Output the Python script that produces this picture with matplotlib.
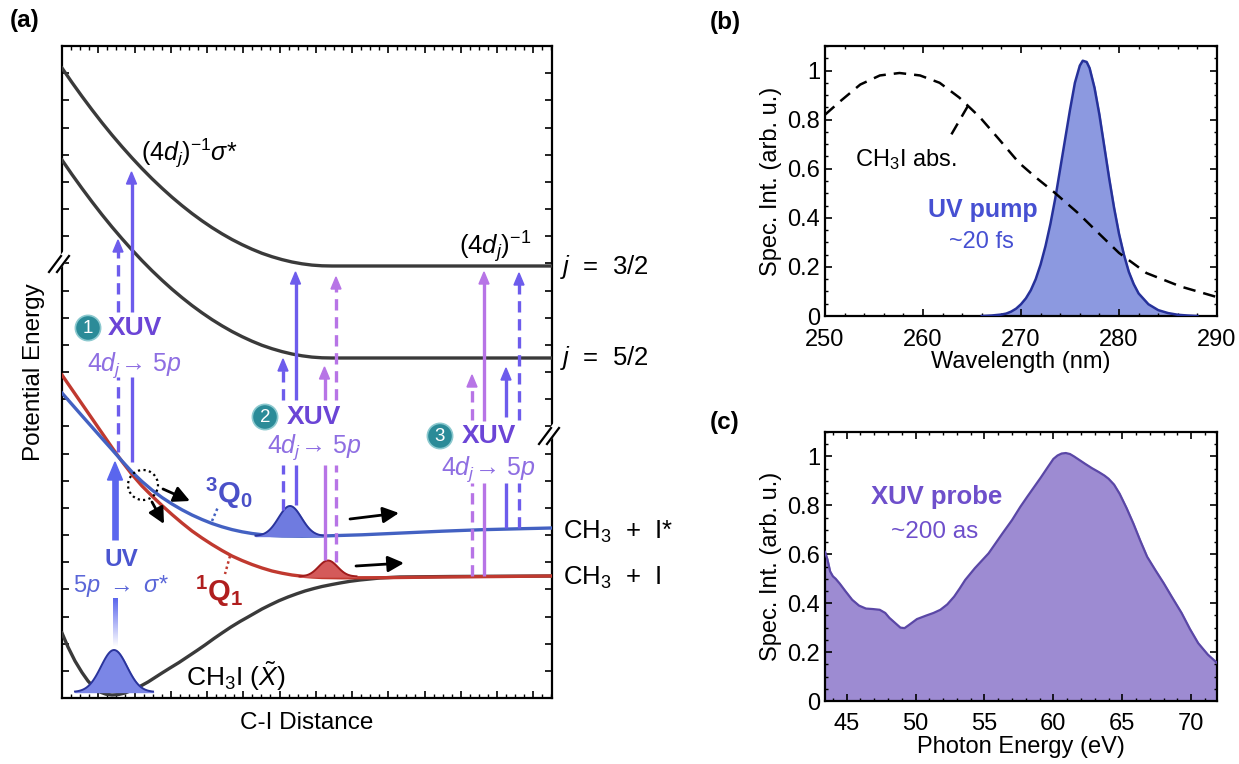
import numpy as np
import matplotlib
matplotlib.use("Agg")
import matplotlib.pyplot as plt
from matplotlib.ticker import MultipleLocator, AutoMinorLocator, FixedLocator, FixedFormatter
from matplotlib.patches import Circle, Polygon

plt.rcParams['font.family'] = ['Liberation Sans', 'DejaVu Sans']
plt.rcParams['mathtext.fontset'] = 'custom'
plt.rcParams['mathtext.rm'] = 'Liberation Sans'
plt.rcParams['mathtext.it'] = 'Liberation Sans:italic'
plt.rcParams['mathtext.bf'] = 'Liberation Sans:bold'

# ---------------- Panel (a) data (arbitrary units) ----------------
ion32_x = [0, 10, 20, 30, 40, 50, 60, 70, 80, 90, 100, 110, 120, 130, 140, 150, 160, 170, 180, 190,
           200, 210, 220, 230, 240, 250, 260, 270, 300, 350, 400, 450, 490]
ion32_y = [630, 615.5, 601.6, 588.2, 575.3, 563.0, 551.3, 540.1, 529.4, 519.3, 509.8, 500.8, 492.4, 484.5,
           477.2, 470.4, 464.2, 458.5, 453.4, 448.8, 444.7, 441.3, 438.4, 436.0, 434.2, 432.9, 432.2, 432,
           432, 432, 432, 432, 432]
ion52_x = ion32_x
ion52_y = [538, 523.5, 509.6, 496.2, 483.3, 471.0, 459.3, 448.1, 437.4, 427.3, 417.8, 408.8, 400.4, 392.5,
           385.2, 378.4, 372.2, 366.5, 361.4, 356.8, 352.7, 349.3, 346.4, 344.0, 342.2, 340.9, 340.2, 340,
           340, 340, 340, 340, 340]
q1_x = [0, 10, 20, 30, 40, 50, 60, 70, 80, 90, 100, 110, 120, 130, 140, 150, 160, 170, 180, 190, 200,
        210, 220, 230, 240, 250, 260, 280, 320, 380, 440, 490]
q1_y = [323, 308.5, 294, 279.5, 265, 250.5, 236.5, 223.5, 212, 202, 192.5, 183.5, 175, 167, 160, 153.5,
        147.5, 142, 137.5, 133.5, 130, 127, 124.8, 123, 121.8, 121, 120.5, 120.2, 120.3, 121, 121.5, 122]
q0_x = [0, 10, 20, 30, 40, 50, 60, 70, 80, 90, 100, 110, 120, 130, 140, 150, 160, 170, 180, 190, 200,
        210, 220, 240, 260, 300, 340, 380, 420, 460, 490]
q0_y = [305, 293.6, 282.2, 270.9, 259.6, 248.4, 237.0, 226, 216.5, 208, 200.5, 194, 188.2, 183, 178.5,
        174.5, 171.2, 168.4, 166.2, 164.5, 163.3, 162.5, 162, 161.8, 162, 163.2, 165, 166.8, 168.3, 169.3, 170]
gs_x = [0, 6, 13, 20, 26, 32, 38, 44, 50, 56, 63, 70, 78, 86, 93, 100, 108, 117, 126, 135, 143, 152, 160,
        169, 178, 186, 193, 200, 208, 217, 226, 235, 243, 252, 260, 270, 278, 288, 298, 318, 338, 388, 490]
gs_y = [65, 51, 37, 25.5, 17, 10.5, 6, 3.8, 3, 3.4, 5, 7.8, 11.6, 16, 20.5, 25, 30, 35.5, 41.5, 47.5, 53,
        59.5, 65, 71, 76.5, 81, 85, 89, 93, 97.3, 101, 104.3, 107, 109.5, 111.5, 113.5, 115, 116.7, 118,
        120, 121, 121.5, 122]

# wavepackets: center, base, amplitude, width
wp_center = [52, 228, 266]
wp_base = [6, 162, 121.5]
wp_amp = [42, 30, 16]
wp_sigma = [13, 11.5, 9.5]
wp_face = ['#7b86e6', '#6f7be0', '#d45a5a']
wp_edge = ['#2a349c', '#2a349c', '#a01c1c']

# XUV probe arrows
xuv_x = [56, 69.5, 221, 233.5, 262.5, 274, 410, 422, 444, 457]
xuv_lo_start = [246, 236, 188, 193, 138, 136, 122, 122, 170, 170]
xuv_lo_end = [321, 321, 233, 233, 233, 233, 215, 215, 215, 215]
xuv_up_start = [386, 386, 298, 298, 298, 298, 278, 277, 281, 278]
xuv_tip = [458, 526, 339, 426, 331, 421, 323, 426, 330, 425]
xuv_dashed = [True, False, True, False, False, True, True, False, False, True]
xuv_kind = ['b', 'b', 'b', 'b', 'p', 'p', 'p', 'p', 'b', 'b']

# ---------------- Panel (b) data ----------------
abs_wl = [250, 251.5, 253.6, 255.6, 257.6, 259.7, 261.7, 263.7, 265.8, 267.8, 269.8, 271.5, 273.3,
          275.8, 277.9, 280.0, 282.8, 286.3, 290]
abs_int = [0.82, 0.873, 0.943, 0.98, 0.99, 0.98, 0.95, 0.89, 0.81, 0.718, 0.624, 0.565, 0.507,
           0.42, 0.338, 0.257, 0.175, 0.12, 0.077]
uv_wl = [266, 267, 268, 268.5, 269, 269.5, 270, 270.5, 271, 271.5, 272, 272.5, 273, 273.5, 274, 274.5,
         275, 275.5, 276, 276.3, 276.7, 277, 277.5, 278, 278.5, 279, 279.5, 280, 280.5, 281, 281.5, 282,
         283, 284, 285, 286, 287, 288]
uv_int = [0, 0.002, 0.006, 0.01, 0.018, 0.03, 0.048, 0.072, 0.105, 0.15, 0.21, 0.285, 0.375, 0.48, 0.6,
          0.72, 0.84, 0.95, 1.02, 1.04, 1.035, 1.01, 0.93, 0.82, 0.69, 0.56, 0.44, 0.335, 0.25, 0.18, 0.13,
          0.092, 0.048, 0.024, 0.012, 0.005, 0.002, 0]
b_xticks = [250, 260, 270, 280, 290]
b_yticks = [0, 0.2, 0.4, 0.6, 0.8, 1]
b_yticklabels = ['0', '0.2', '0.4', '0.6', '0.8', '1']

# ---------------- Panel (c) data ----------------
xuv_E = [43.43, 43.6, 43.8, 44.0, 44.2, 44.5, 44.9, 45.4, 45.9, 46.4, 46.9, 47.4, 47.8, 48.1, 48.5, 48.9,
         49.2, 49.5, 50.1, 50.8, 51.3, 51.8, 52.3, 52.8, 53.2, 53.6, 54.3, 55.3, 56.3, 57.0, 57.6, 58.1,
         58.6, 59.1, 59.6, 60.0, 60.3, 60.6, 60.9, 61.2, 61.5, 61.9, 62.3, 62.8, 63.3, 63.7, 64.0, 64.4,
         64.8, 65.3, 65.8, 66.3, 66.8, 67.4, 68.0, 68.6, 69.3, 69.9, 70.5, 71.2, 71.87]
xuv_int = [0.61, 0.58, 0.53, 0.51, 0.50, 0.48, 0.45, 0.414, 0.39, 0.378, 0.376, 0.373, 0.36, 0.34, 0.32,
           0.30, 0.298, 0.31, 0.335, 0.35, 0.36, 0.373, 0.395, 0.427, 0.46, 0.495, 0.543, 0.604, 0.685,
           0.74, 0.794, 0.835, 0.875, 0.915, 0.957, 0.99, 1.004, 1.012, 1.014, 1.01, 1.0, 0.985, 0.97,
           0.952, 0.936, 0.922, 0.909, 0.885, 0.848, 0.79, 0.726, 0.656, 0.59, 0.535, 0.482, 0.425, 0.36,
           0.295, 0.237, 0.19, 0.156]
c_xticks = [45, 50, 55, 60, 65, 70]

# ------------------------------------------------------------------
W, H = 1239, 764
fig = plt.figure(figsize=(W / 100, H / 100), dpi=100)

def frac(l, r, t, b):
    return [l / W, (H - b) / H, (r - l) / W, (b - t) / H]

BLK = '#3a3a3a'
BLUE = '#4361c2'
RED = '#c0392f'
XB = '#6d5cec'
XP = '#b774e6'
TEAL = '#2b8b98'

# ---------------- Panel (a) ----------------
ax = fig.add_axes(frac(62, 552, 46, 698))
ax.set_xlim(0, 490)
ax.set_ylim(0, 652)
for s in ax.spines.values():
    s.set_linewidth(1.6)
ax.xaxis.set_major_locator(MultipleLocator(36.25))
ax.xaxis.set_minor_locator(AutoMinorLocator(4))
ax.yaxis.set_major_locator(MultipleLocator(652 / 24))
ax.tick_params(which='both', direction='in', top=True, right=True, labelbottom=False, labelleft=False)
ax.tick_params(which='major', length=5, width=1.2)
ax.tick_params(which='minor', length=3, width=1.0)
ax.set_xlabel('C-I Distance', fontsize=17.5, labelpad=10)
ax.set_ylabel('Potential Energy', fontsize=17.5, labelpad=12)

ax.plot(ion32_x, ion32_y, color=BLK, lw=2.4, zorder=3, solid_joinstyle='round')
ax.plot(ion52_x, ion52_y, color=BLK, lw=2.4, zorder=3, solid_joinstyle='round')
ax.plot(gs_x, gs_y, color=BLK, lw=2.4, zorder=3, solid_joinstyle='round')
ax.plot(q1_x, q1_y, color=RED, lw=2.4, zorder=4, solid_joinstyle='round')
ax.plot(q0_x, q0_y, color=BLUE, lw=2.4, zorder=5, solid_joinstyle='round')

# wavepackets
for c, b0, a, sg, fc, ec in zip(wp_center, wp_base, wp_amp, wp_sigma, wp_face, wp_edge):
    xx = np.linspace(c - 3 * sg, c + 3 * sg, 80)
    yy = b0 + a * np.exp(-0.5 * ((xx - c) / sg) ** 2)
    ax.fill_between(xx, b0, yy, color=fc, zorder=6)
    ax.plot(xx, yy, color=ec, lw=1.4, zorder=7)

# XUV arrows
for x, ls0, ls1, us0, tip, dsh, k in zip(xuv_x, xuv_lo_start, xuv_lo_end, xuv_up_start, xuv_tip, xuv_dashed, xuv_kind):
    col = XB if k == 'b' else XP
    ls = (0, (3.4, 2.0)) if dsh else '-'
    ax.plot([x, x], [ls0, ls1], color=col, lw=2.4, ls=ls, zorder=8, solid_capstyle='butt')
    ax.plot([x, x], [us0, tip - 10], color=col, lw=2.4, ls=ls, zorder=8, solid_capstyle='butt')
    ax.add_patch(Polygon([[x - 5, tip - 12], [x + 5, tip - 12], [x, tip]], closed=True, color=col, zorder=8))

# UV pump arrow with fading tail
UVC = '#5a66ee'
ax.plot([53, 53], [158, 222], color=UVC, lw=4.8, zorder=9, solid_capstyle='butt')
ax.add_patch(Polygon([[45.5, 218], [60.5, 218], [53, 236]], closed=True, color=UVC, zorder=9))
grad = np.zeros((60, 1, 4))
grad[:, 0, 0], grad[:, 0, 1], grad[:, 0, 2] = 0.353, 0.4, 0.933
grad[:, 0, 3] = np.linspace(1, 0, 60)
ax.imshow(grad, extent=[50.6, 55.4, 51, 100], origin='upper', aspect='auto', zorder=9, interpolation='bilinear')
ax.set_xlim(0, 490)
ax.set_ylim(0, 652)

ax.text(59, 138, 'UV', color='#4a55d0', fontsize=17.5, fontweight='bold', ha='center', va='center', zorder=10)
ax.text(59, 112, r'$5p\ \rightarrow\ \sigma$*', color='#5a66d8', fontsize=17, ha='center', va='center', zorder=10)

# dotted circle and small black arrows
ax.add_patch(Circle((81, 213), 15, fill=False, ls=(0, (1, 1.5)), lw=1.6, color='k', zorder=10))
arr_black = [((101, 209), (128, 197)), ((90, 196), (102, 174)), ((288, 179), (337, 185)), ((294, 132), (342, 135))]
for (x0, y0), (x1, y1) in arr_black:
    ax.annotate('', xy=(x1, y1), xytext=(x0, y0),
                arrowprops=dict(arrowstyle='-|>,head_length=0.6,head_width=0.3', color='k', lw=2.0,
                                shrinkA=0, shrinkB=0, mutation_scale=16), zorder=10)

# state labels + dotted leaders
ax.plot([150, 156], [177, 191], color=BLUE, lw=1.8, ls=(0, (1, 1.2)), zorder=10)
ax.plot([168, 163], [142, 124], color=RED, lw=1.8, ls=(0, (1, 1.2)), zorder=10)
ax.text(167, 205, r'$^{\mathbf{3}}\mathbf{Q}_{\mathbf{0}}$', color='#4a50c8', fontsize=21, ha='center', va='center', zorder=10)
ax.text(157, 107, r'$^{\mathbf{1}}\mathbf{Q}_{\mathbf{1}}$', color='#b01e1e', fontsize=21, ha='center', va='center', zorder=10)
ax.text(174, 22, r'CH$_3$I ($\tilde{X}$)', color='k', fontsize=19, ha='center', va='center', zorder=10)
ax.text(127, 545, r'$(4d_j)^{-1}\sigma$*', color='k', fontsize=18, ha='center', va='center', zorder=10)
ax.text(433, 451, r'$(4d_j)^{-1}$', color='k', fontsize=18.5, ha='center', va='center', zorder=10)

# XUV labels with circled numbers
lab_num = ['1', '2', '3']
lab_circ = [(26, 370), (203, 281), (378, 262)]
lab_xuv = [(73, 370), (252, 281), (427, 262)]
lab_tr = [(72, 333), (252, 251), (426, 229)]
for n, (cx, cy), (tx, ty), (rx, ry) in zip(lab_num, lab_circ, lab_xuv, lab_tr):
    ax.text(cx, cy, n, color='white', fontsize=13.5, ha='center', va='center', zorder=11,
            bbox=dict(boxstyle='circle,pad=0.22', fc=TEAL, ec='#8cc9cf', lw=1.2))
    ax.text(tx, ty, 'XUV', color='#6b45d6', fontsize=19, fontweight='bold', ha='center', va='center', zorder=11)
    ax.text(rx, ry, r'$4d_j\!\rightarrow\,5p$', color='#8e6ee2', fontsize=18, ha='center', va='center', zorder=11)

# right-hand labels
ax.text(498, 431, r'$j$  =  3/2', fontsize=18.5, ha='left', va='center', clip_on=False)
ax.text(498, 340, r'$j$  =  5/2', fontsize=18.5, ha='left', va='center', clip_on=False)
ax.text(501, 166, r'CH$_3$  +  I*', fontsize=18.5, ha='left', va='center', clip_on=False)
ax.text(501, 120, r'CH$_3$  +  I', fontsize=18.5, ha='left', va='center', clip_on=False)

# axis break marks
for (bx, by) in [(0, 438), (490, 266)]:
    ax.plot([bx - 9, bx + 3], [by - 12, by + 4], color='white', lw=6, clip_on=False, zorder=12)
    for off in (-4, 4):
        ax.plot([bx - 9 + off, bx + 3 + off], [by - 12, by + 4], color='k', lw=1.6, clip_on=False, zorder=13)

fig.text(25 / W, 1 - 20 / H, '(a)', fontsize=17.5, fontweight='bold', ha='center', va='center')

# ---------------- Panel (b) ----------------
axb = fig.add_axes(frac(825, 1217, 46, 316))
axb.fill_between(uv_wl, 0, uv_int, color='#8c99e0', zorder=2)
axb.plot(uv_wl, uv_int, color='#26319a', lw=1.8, zorder=3)
axb.plot(abs_wl, abs_int, color='k', lw=1.8, ls=(0, (5, 3.2)), zorder=4)
axb.plot([262.9, 264.6], [0.74, 0.857], color='k', lw=1.8, ls=(0, (5, 3.2)), zorder=4)
axb.set_xlim(250, 290)
axb.set_ylim(0, 1.1)
axb.xaxis.set_major_locator(FixedLocator(b_xticks))
axb.xaxis.set_minor_locator(MultipleLocator(2))
axb.yaxis.set_major_locator(FixedLocator(b_yticks))
axb.yaxis.set_major_formatter(FixedFormatter(b_yticklabels))
axb.yaxis.set_minor_locator(MultipleLocator(0.05))
axb.text(263.4, 0.637, r'CH$_3$I abs.', fontsize=17, ha='right', va='center')
axb.text(266.1, 0.433, 'UV pump', color='#4650d2', fontsize=18, fontweight='bold', ha='center', va='center')
axb.text(266.0, 0.303, '~20 fs', color='#4650d2', fontsize=17, ha='center', va='center')
axb.set_xlabel('Wavelength (nm)', fontsize=17, labelpad=0)
axb.set_ylabel('Spec. Int. (arb. u.)', fontsize=17, labelpad=4)
fig.text(725 / W, 1 - 22 / H, '(b)', fontsize=17.5, fontweight='bold', ha='center', va='center')

# ---------------- Panel (c) ----------------
axc = fig.add_axes(frac(825, 1217, 432, 701))
axc.fill_between(xuv_E, 0, xuv_int, color='#9d8bd2', zorder=2)
axc.plot(xuv_E, xuv_int, color='#5a47a6', lw=1.6, zorder=3)
axc.set_xlim(43.43, 71.87)
axc.set_ylim(0, 1.1)
axc.xaxis.set_major_locator(FixedLocator(c_xticks))
axc.xaxis.set_minor_locator(MultipleLocator(1))
axc.yaxis.set_major_locator(FixedLocator(b_yticks))
axc.yaxis.set_major_formatter(FixedFormatter(b_yticklabels))
axc.yaxis.set_minor_locator(MultipleLocator(0.05))
axc.text(51.5, 0.835, 'XUV probe', color='#6e4fcb', fontsize=18.5, fontweight='bold', ha='center', va='center')
axc.text(51.4, 0.69, '~200 as', color='#6e4fcb', fontsize=17.5, ha='center', va='center')
axc.set_xlabel('Photon Energy (eV)', fontsize=17, labelpad=0)
axc.set_ylabel('Spec. Int. (arb. u.)', fontsize=17, labelpad=4)
fig.text(725 / W, 1 - 422 / H, '(c)', fontsize=17.5, fontweight='bold', ha='center', va='center')

for a_ in (axb, axc):
    for s in a_.spines.values():
        s.set_linewidth(1.6)
    a_.tick_params(which='both', direction='in', top=True, right=True, labelsize=17)
    a_.tick_params(axis='x', which='major', pad=9)
    a_.tick_params(which='major', length=5, width=1.2)
    a_.tick_params(which='minor', length=2.5, width=1.0)
    a_.set_axisbelow(False)

fig.savefig('out.png', dpi=100)
